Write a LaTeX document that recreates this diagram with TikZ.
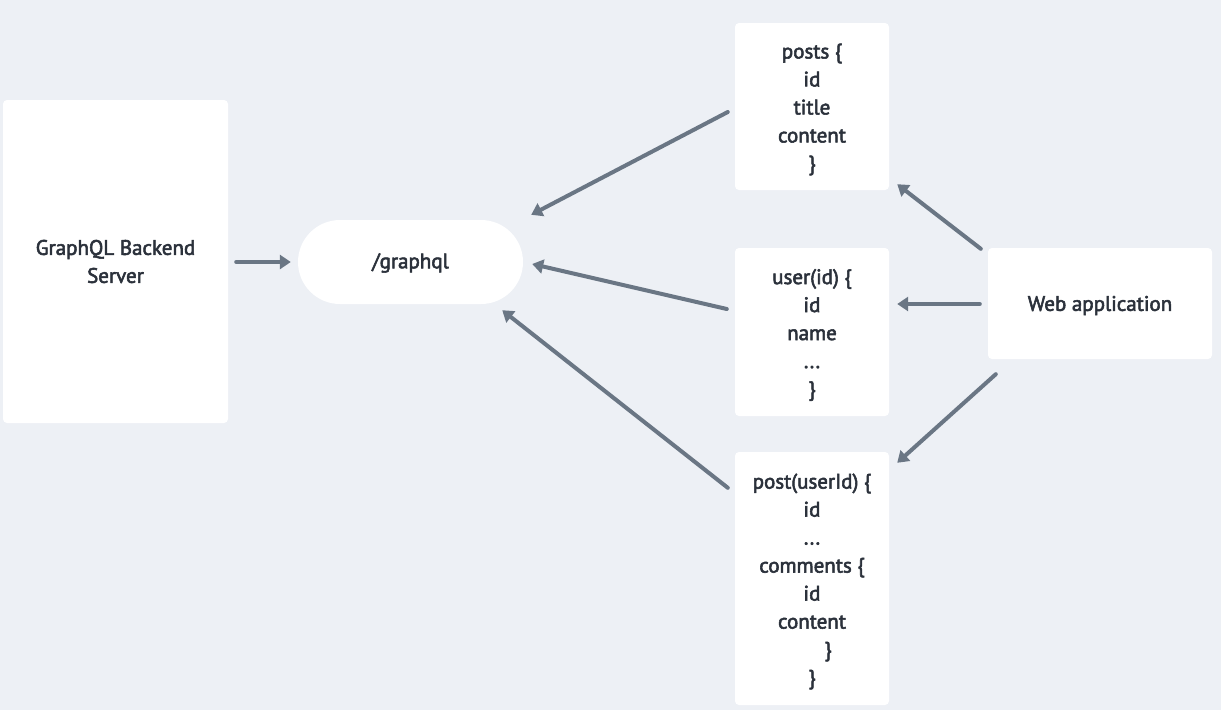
\documentclass[tikz,border=0pt]{standalone}
\usepackage{fontspec}
\setmainfont{PT Sans}[FakeBold=2.6]
\usetikzlibrary{arrows.meta,calc}
\definecolor{canvas}{HTML}{EDF0F5}
\definecolor{ink}{HTML}{2B313B}
\definecolor{wire}{HTML}{6A7684}
\begin{document}
\begin{tikzpicture}[x=1pt,y=-1pt,
  card/.style={fill=white,rounded corners=4pt,inner sep=0pt},
  pill/.style={card,rounded corners=42pt},
  txt/.style={inner sep=0pt,text=ink,align=center,
    font=\fontsize{21pt}{28pt}\selectfont},
  link/.style={draw=wire,line width=4pt,line cap=round,
    -{Triangle[length=11pt,width=14pt]}}]
  % page
  \fill[canvas] (0,0) rectangle (1221,710);
  \useasboundingbox (0,0) rectangle (1221,710);

  % boxes
  \node[card,minimum width=225pt,minimum height=323pt] (backend) at (115.5,261.5) {};
  \node[pill,minimum width=225pt,minimum height=84pt] (gql) at (410.5,262) {};
  \node[card,minimum width=154pt,minimum height=167pt] (posts) at (812,106.5) {};
  \node[card,minimum width=154pt,minimum height=168pt] (user) at (812,332) {};
  \node[card,minimum width=154pt,minimum height=253pt] (post) at (812,578.5) {};
  \node[card,minimum width=224pt,minimum height=111pt] (web) at (1100,303.5) {};

  % box texts
  \node[txt] (backendtxt) at ($(backend.center)+(0,0)$) {GraphQL Backend\\Server};
  \node[txt] (gqltxt) at ($(gql.center)+(0,1)$) {/graphql};
  \node[txt] (poststxt) at ($(posts.center)+(0,3)$)
    {posts \{\\id\\title\\content\\\}};
  \node[txt] (usertxt) at ($(user.center)+(0,3)$)
    {user(id) \{\\id\\name\\...\\\}};
  \node[txt] (posttxt) at ($(post.center)+(0,3)$)
    {post(userId) \{\\id\\...\\comments \{\\id\\content\\\hspace*{32pt}\}\\\}};
  \node[txt] (webtxt) at ($(web.center)+(0,2)$) {Web application};

  % connectors
  \draw[link] ($(backend.east)+(8,0.5)$) -- ($(gql.west)+(-7,0)$);
  \draw[link] ($(posts.west)+(-7,5.5)$) -- ($(gql.north east)+(8,-5)$);
  \draw[link] ($(user.west)+(-8,-23)$) -- ($(gql.east)+(9,2)$);
  \draw[link] ($(post.north west)+(-7,36)$) -- ($(gql.south east)+(-21,6)$);
  \draw[link] ($(web.north west)+(-7,1)$) -- ($(posts.south east)+(8,-6)$);
  \draw[link] ($(web.west)+(-8,0.5)$) -- ($(user.east)+(8,-28)$);
  \draw[link] ($(web.south west)+(8,15)$) -- ($(post.north east)+(8,11)$);
\end{tikzpicture}
\end{document}
